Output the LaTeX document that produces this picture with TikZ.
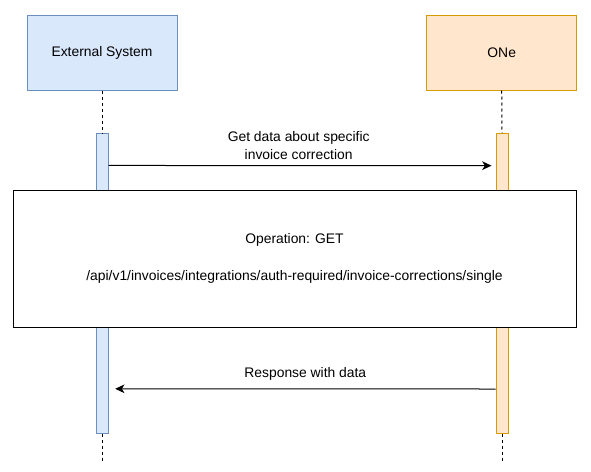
\documentclass[tikz,border=0pt]{standalone}
\usepackage{fontspec}
\setmainfont{Liberation Sans}
\usetikzlibrary{arrows.meta}
\definecolor{bfill}{HTML}{DAE8FC}
\definecolor{bline}{HTML}{6C8EBF}
\definecolor{ofill}{HTML}{FFE6CC}
\definecolor{oline}{HTML}{D79B00}
\begin{document}
\begin{tikzpicture}[x=0.75pt,y=-0.75pt,
  every node/.style={font=\fontsize{10.4}{13.5}\selectfont},
  partA/.style={draw=bline,fill=bfill,line width=0.75pt,minimum width=112.5pt,minimum height=56.25pt,inner sep=0pt},
  partB/.style={draw=oline,fill=ofill,line width=0.75pt,minimum width=112.5pt,minimum height=56.25pt,inner sep=0pt},
  barA/.style={draw=bline,fill=bfill,line width=0.75pt,minimum width=9pt,minimum height=225pt,inner sep=0pt},
  barB/.style={draw=oline,fill=ofill,line width=0.75pt,minimum width=9pt,minimum height=225pt,inner sep=0pt},
  life/.style={dashed,line width=0.75pt,dash pattern=on 2.25pt off 2.25pt},
  msg/.style={line width=0.75pt,-{Stealth[length=7pt,width=6.5pt,inset=2pt]}},
  opbox/.style={draw=black,fill=white,line width=0.75pt,minimum width=422.25pt,minimum height=102.75pt,inner sep=0pt,align=center}
]
\useasboundingbox (0,0) rectangle (591,471);
\node[partA] (ext) at (102,52.5) {External System};
\node[partB] (one) at (501.7,52.5) {ONe};
\node[barA] (extbar) at (102,283.3) {};
\node[barB] (onebar) at (502,283.5) {};
\coordinate (extend) at (102,462);
\coordinate (oneend) at (502,462);
\draw[life] (ext.south) -- (extbar.north);
\draw[life] (one.south) -- (onebar.north);
\draw[life] (extbar.south) -- (extend);
\draw[life] (onebar.south) -- (oneend);
\draw[msg] ([yshift=-24.5pt]extbar.north east) -- node[midway,above,align=center,inner sep=4pt,xshift=-1pt] {Get data about specific\\invoice correction} ([yshift=-24.5pt,xshift=-3pt]onebar.north west);
\node[opbox] (op) at (294.5,258.5) {Operation: GET\\[14.25pt]/api/v1/invoices/integrations/auth-required/invoice-corrections/single};
\draw[msg] ([yshift=-192pt]onebar.north west) -- node[midway,above,inner sep=6pt] {Response with data} ([yshift=-192pt,xshift=5pt]extbar.north east);
\end{tikzpicture}
\end{document}
